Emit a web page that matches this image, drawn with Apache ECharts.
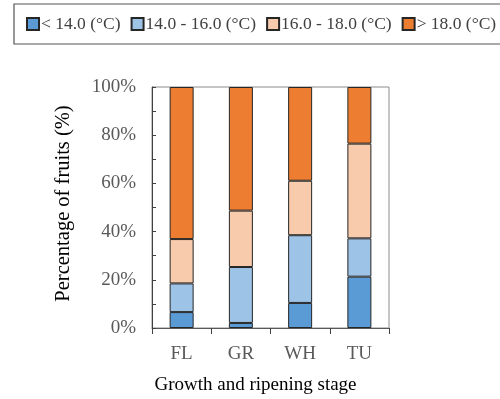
<!DOCTYPE html>
<html><head><meta charset="utf-8">
<script src="https://cdn.jsdelivr.net/npm/echarts@6/dist/echarts.min.js"></script>
<style>html,body{margin:0;padding:0;background:#fff}#c{width:500px;height:399px}</style>
</head><body><div id="c"></div>
<script>
const categories = ['FL', 'GR', 'WH', 'TU'];
const seriesNames = ['< 14.0 (\u00B0C)', '14.0 - 16.0 (\u00B0C)', '16.0 - 18.0 (\u00B0C)', '> 18.0 (\u00B0C)'];
const below14 = [6.6, 2.1, 10.4, 21.3];
const from14to16 = [11.9, 23.2, 28.1, 15.9];
const from16to18 = [18.4, 23.4, 22.6, 39.3];
const above18 = [63.1, 51.3, 38.9, 23.5];
const yTicks = [0, 20, 40, 60, 80, 100];
const colors = ['#5B9BD5', '#9DC3E6', '#F8CBAD', '#ED7D31'];
const values = [below14, from14to16, from16to18, above18];

const font = '"Liberation Serif", "Times New Roman", serif';
const chart = echarts.init(document.getElementById('c'), null, {renderer: 'canvas'});
chart.setOption({
  animation: false,
  textStyle: {fontFamily: font},
  legend: {
    left: 14, top: 4, width: 483,
    padding: [11, 6, 11, 12],
    borderColor: '#555', borderWidth: 1.2,
    itemWidth: 12, itemHeight: 12, itemGap: 10,
    icon: 'rect',
    textStyle: {fontFamily: font, fontSize: 17.5, color: '#404040', padding: [0, 0, 0, -3]},
    data: seriesNames
  },
  grid: {left: 152, top: 87, width: 237, height: 241, show: true, borderColor: '#8c8c8c', borderWidth: 1, outerBoundsMode: 'none'},
  xAxis: {
    type: 'category', data: categories,
    axisLine: {lineStyle: {color: '#595959', width: 1}},
    axisTick: {show: true, inside: false, length: 6, lineStyle: {color: '#404040'}},
    axisLabel: {fontFamily: font, fontSize: 19, color: '#595959', margin: 17},
    name: 'Growth and ripening stage', nameLocation: 'middle', nameGap: 48,
    nameTextStyle: {fontFamily: font, fontSize: 19, color: '#000', padding: [0, 30, 0, 0]}
  },
  yAxis: {
    type: 'value', min: yTicks[0], max: yTicks[yTicks.length - 1], interval: 20,
    axisLine: {show: true, lineStyle: {color: '#404040', width: 1}},
    axisTick: {show: true, inside: true, length: 4, lineStyle: {color: '#404040'}},
    minorTick: {show: true, splitNumber: 2, length: 4, lineStyle: {color: '#404040'}},
    splitLine: {show: false},
    axisLabel: {fontFamily: font, fontSize: 19, color: '#595959', margin: 16, formatter: '{value}%'},
    name: 'Percentage of fruits (%)', nameLocation: 'middle', nameGap: 78, nameRotate: 90,
    nameTextStyle: {fontFamily: font, fontSize: 20.5, color: '#000', padding: [0, 0, 0, 8]}
  },
  series: seriesNames.map((n, i) => ({
    name: n, type: 'bar', stack: 'total', data: values[i], barWidth: 24,
    itemStyle: {color: colors[i], borderColor: '#262626', borderWidth: 1}
  }))
});
</script></body></html>
